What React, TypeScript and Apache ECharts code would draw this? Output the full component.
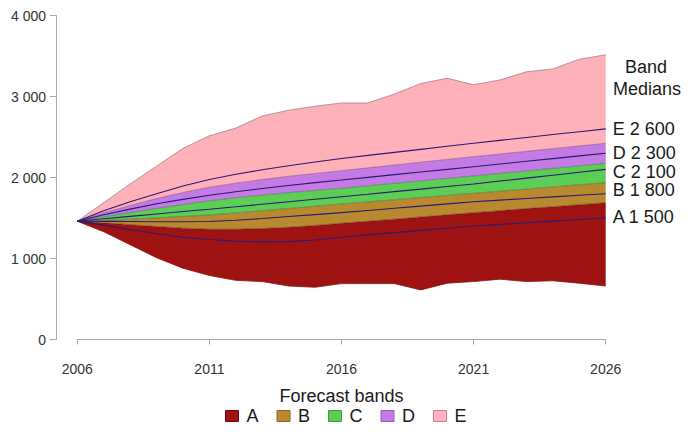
import { useEffect, useRef } from "react";
import * as echarts from "echarts";

// Forecast years (category axis)
const years = [
  "2006", "2007", "2008", "2009", "2010", "2011", "2012", "2013", "2014", "2015", "2016",
  "2017", "2018", "2019", "2020", "2021", "2022", "2023", "2024", "2025", "2026",
];

// Band boundaries, from the lowest edge up to the highest edge
const lowerBound = [1460, 1330, 1170, 1010, 880, 790, 730, 715, 660, 645, 690, 690, 690, 612, 695, 715, 745, 715, 725, 695, 660];
const boundAB = [1460, 1440, 1418, 1395, 1375, 1362, 1362, 1370, 1385, 1408, 1435, 1460, 1486, 1512, 1539, 1566, 1591, 1616, 1640, 1665, 1689];
const boundBC = [1460, 1472, 1486, 1502, 1519, 1537, 1563, 1590, 1618, 1645, 1673, 1699, 1726, 1752, 1779, 1805, 1831, 1857, 1884, 1910, 1936];
const boundCD = [1460, 1515, 1567, 1618, 1667, 1712, 1750, 1783, 1813, 1840, 1866, 1897, 1928, 1958, 1989, 2019, 2050, 2081, 2113, 2144, 2175];
const boundDE = [1460, 1565, 1655, 1740, 1815, 1880, 1930, 1975, 2015, 2050, 2084, 2119, 2154, 2189, 2223, 2257, 2290, 2323, 2356, 2389, 2422];
const upperBound = [1460, 1690, 1920, 2140, 2360, 2515, 2610, 2760, 2830, 2880, 2920, 2920, 3030, 3160, 3225, 3145, 3205, 3305, 3340, 3460, 3515];

// Median path inside each band
const medianA = [1460, 1412, 1358, 1305, 1262, 1235, 1215, 1205, 1208, 1228, 1262, 1292, 1320, 1347, 1374, 1401, 1421, 1441, 1461, 1481, 1500];
const medianB = [1460, 1458, 1456, 1454, 1454, 1456, 1472, 1493, 1518, 1542, 1566, 1593, 1620, 1647, 1674, 1701, 1721, 1741, 1761, 1781, 1800];
const medianC = [1460, 1490, 1520, 1550, 1580, 1608, 1638, 1670, 1701, 1732, 1763, 1794, 1826, 1857, 1889, 1920, 1956, 1992, 2028, 2064, 2100];
const medianD = [1460, 1540, 1610, 1675, 1730, 1780, 1825, 1865, 1902, 1937, 1969, 2002, 2035, 2068, 2100, 2133, 2166, 2200, 2233, 2267, 2300];
const medianE = [1460, 1590, 1700, 1800, 1895, 1975, 2040, 2095, 2145, 2192, 2235, 2273, 2310, 2347, 2385, 2422, 2458, 2494, 2530, 2565, 2600];

const bandNames = ["A", "B", "C", "D", "E"];
const bandColors = ["#9e1212", "#b8892e", "#5ccd55", "#c47be6", "#ffb1ba"];
const bandBorders = ["#6e0a0a", "#8a6420", "#3d9a3a", "#9a58b8", "#c88a92"];
const edgeColors = ["rgba(70,20,30,0.55)", "rgba(70,60,20,0.55)", "rgba(40,80,40,0.55)", "rgba(90,50,110,0.6)", "#a87c8a"];
// vertical nudges that keep the end labels apart
const labelShift = [-0.7, -3.3, 2.2, -0.4, 0];

const FONT = "'Liberation Sans', Arial, Helvetica, sans-serif";

function fmt(v: number): string {
  return Math.round(v)
    .toString()
    .replace(/\B(?=(\d{3})+(?!\d))/g, " ");
}

export default function App() {
  const ref = useRef<HTMLDivElement>(null);

  useEffect(() => {
    if (!ref.current) return;
    const chart = echarts.init(ref.current, null, { renderer: "svg" });

    const bounds = [lowerBound, boundAB, boundBC, boundCD, boundDE, upperBound];
    const medians = [medianA, medianB, medianC, medianD, medianE];

    // Stacked thickness of each band
    const thickness = bandNames.map((_, i) =>
      bounds[i + 1].map((v, k) => v - bounds[i][k])
    );

    const series: any[] = [
      {
        name: "lower",
        type: "line",
        stack: "fan",
        data: lowerBound,
        symbol: "none",
        silent: true,
        lineStyle: { color: "#8a1010", width: 0.8 },
        z: 3,
      },
      ...bandNames.map((n, i) => ({
        name: n,
        type: "line",
        stack: "fan",
        data: thickness[i],
        symbol: "none",
        silent: true,
        itemStyle: { color: bandColors[i] },
        areaStyle: { color: bandColors[i], opacity: 1 },
        lineStyle: { color: edgeColors[i], width: 0.8 },
        z: 2,
      })),
      ...bandNames.map((n, i) => ({
        name: n + " median",
        type: "line",
        data: medians[i],
        symbol: "none",
        silent: true,
        lineStyle: { color: "#2a1a72", width: 1.1 },
        z: 4,
        endLabel: {
          show: true,
          distance: 7,
          offset: [0, labelShift[i]],
          formatter: (p: any) => `${n} ${fmt(Number(p.value))}`,
          fontSize: 18,
          lineHeight: 16,
          fontFamily: FONT,
          color: "#1a1a1a",
        },
      })),
    ];

    chart.setOption({
      animation: false,
      textStyle: { fontFamily: FONT },
      grid: {
        left: 77.3,
        right: 83.3,
        top: 15.5,
        bottom: 94.5,
        outerBoundsMode: "none",
      },
      legend: {
        data: bandNames.map((n, i) => ({
          name: n,
          itemStyle: { color: bandColors[i], borderColor: bandBorders[i], borderWidth: 1 },
        })),
        left: 225,
        top: 407,
        padding: 0,
        icon: "rect",
        itemWidth: 13,
        itemHeight: 11,
        itemGap: 18,
        selectedMode: false,
        textStyle: { fontSize: 18, color: "#1a1a1a", fontFamily: FONT, padding: [0, 0, 0, 3] },
      },
      xAxis: {
        type: "category",
        data: years,
        boundaryGap: false,
        offset: 13.5,
        axisLine: { lineStyle: { color: "#a9a9a9", width: 1 } },
        axisTick: { interval: 4, length: 5, lineStyle: { color: "#a9a9a9" } },
        axisLabel: { interval: 4, margin: 9, fontSize: 14, color: "#333", fontFamily: FONT },
        splitLine: { show: false },
        name: "Forecast bands",
        nameLocation: "middle",
        nameGap: 34,
        nameTextStyle: { fontSize: 18, color: "#1a1a1a", fontFamily: FONT, lineHeight: 18 },
      },
      yAxis: {
        type: "value",
        min: 0,
        max: 4000,
        interval: 1000,
        offset: 21.3,
        axisLine: { show: true, lineStyle: { color: "#a9a9a9", width: 1 } },
        axisTick: { show: true, length: 6, lineStyle: { color: "#a9a9a9" } },
        splitLine: { show: false },
        axisLabel: {
          formatter: (v: number) => fmt(v),
          margin: 10,
          fontSize: 14,
          color: "#333",
          fontFamily: FONT,
        },
      },
      graphic: [
        {
          type: "text",
          left: 625,
          top: 58,
          style: { text: "Band", fontSize: 18, fill: "#1a1a1a", fontFamily: FONT },
        },
        {
          type: "text",
          left: 613,
          top: 80,
          style: { text: "Medians", fontSize: 18, fill: "#1a1a1a", fontFamily: FONT },
        },
      ],
      series,
    });

    return () => chart.dispose();
  }, []);

  return (
    <div
      ref={ref}
      style={{ position: "absolute", left: 0, top: 0, width: 689, height: 434, background: "#fff" }}
    />
  );
}
